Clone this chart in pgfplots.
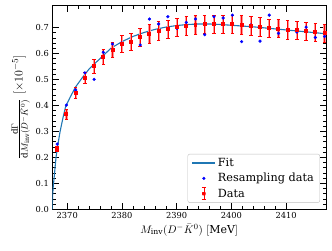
\documentclass[border=0pt]{standalone}
\usepackage{fontspec}
\setmainfont{DejaVu Serif}
\usepackage{pgfplots}
\pgfplotsset{compat=1.18}
\usepackage{pgfplotstable}
\definecolor{fitblue}{HTML}{1F77B4}
\definecolor{purered}{RGB}{255,0,0}
\definecolor{lightred}{RGB}{255,150,150}
\pgfplotstableread{
x red err blue
2368.17 0.232 0.010 0.251
2369.85 0.365 0.018 0.401
2371.54 0.448 0.020 0.459
2373.22 0.506 0.022 0.525
2374.91 0.550 0.026 0.500
2376.59 0.586 0.028 0.604
2378.27 0.613 0.030 0.636
2379.96 0.637 0.032 0.640
2381.64 0.643 0.033 0.645
2383.33 0.662 0.034 0.632
2385.01 0.674 0.036 0.732
2386.69 0.686 0.036 0.713
2388.38 0.693 0.036 0.741
2390.06 0.700 0.036 0.696
2391.75 0.706 0.036 0.719
2393.43 0.709 0.036 0.732
2395.11 0.712 0.036 0.672
2396.80 0.712 0.036 0.741
2398.48 0.712 0.036 0.736
2400.17 0.712 0.036 0.747
2401.85 0.709 0.036 0.645
2403.53 0.706 0.036 0.709
2405.22 0.702 0.036 0.647
2406.90 0.698 0.035 0.747
2408.59 0.695 0.035 0.677
2410.27 0.691 0.035 0.687
2411.95 0.688 0.034 0.682
2413.64 0.686 0.034 0.701
2415.32 0.681 0.034 0.661
2417.01 0.677 0.034 0.665
}\datatab
\pgfplotstableread{
x y
2367.27 0.000
2367.32 0.050
2367.45 0.090
2367.64 0.130
2367.95 0.200
2368.30 0.250
2368.70 0.300
2369.20 0.350
2369.70 0.395
2370.50 0.430
2371.50 0.470
2372.70 0.505
2374.00 0.540
2375.50 0.570
2376.50 0.590
2378.00 0.620
2380.00 0.645
2382.00 0.665
2384.00 0.680
2386.00 0.692
2388.00 0.701
2390.00 0.707
2392.00 0.711
2394.00 0.713
2396.00 0.713
2398.00 0.711
2400.00 0.708
2402.00 0.705
2404.00 0.702
2406.00 0.698
2408.00 0.694
2410.00 0.690
2412.00 0.686
2414.00 0.682
2416.00 0.678
2417.27 0.675
}\fittab
\begin{document}
\begin{tikzpicture}
\begin{axis}[
  scale only axis,
  width=273.7bp, height=204.3bp,
  xmin=2367.27, xmax=2417.27,
  ymin=0, ymax=0.786,
  xtick={2370,2380,2390,2400,2410},
  ytick={0,0.1,0.2,0.3,0.4,0.5,0.6,0.7},
  minor x tick num=4,
  minor y tick num=4,
  tick align=inside,
  xtick pos=both, ytick pos=both,
  major tick length=6.5bp,
  minor tick length=3.5bp,
  axis line style={line width=0.9pt},
  every tick/.style={black, line width=0.7pt},
  every minor tick/.style={black, line width=0.5pt},
  scaled y ticks=false,
  scaled x ticks=false,
  /pgf/number format/assume math mode=true,
  xticklabel style={/pgf/number format/1000 sep={}},
  yticklabel style={/pgf/number format/fixed, /pgf/number format/precision=1, /pgf/number format/fixed zerofill},
  tick label style={font=\fontsize{8.3}{10}\selectfont},
  xlabel={$M_{\mathrm{inv}}(D^-\bar{K}^0)\ [\mathrm{MeV}]$},
  ylabel={$\frac{\mathrm{d}\Gamma}{\mathrm{d}M_{\mathrm{inv}}(D^-\bar{K}^0)}\ [\times 10^{-5}]$},
  xlabel style={font=\fontsize{11}{13}\selectfont, yshift=2bp},
  ylabel style={font=\fontsize{12.5}{14}\selectfont, yshift=-1bp},
  legend style={at={(0.978,0.032)}, anchor=south east, draw=black!25, rounded corners=2pt,
    font=\fontsize{11.3}{13}\selectfont, row sep=1.5bp, inner xsep=4bp, inner ysep=2bp},
  legend cell align=left,
]
\addplot[fitblue, line width=1.1pt, no marks,
  legend image code/.code={\draw[fitblue, line width=1.1pt] (0bp,0bp) -- (23bp,0bp);}]
  table[x=x, y=y] {\fittab};
\addlegendentry{Fit}
\addplot[only marks, mark=*, mark size=1.4pt, blue, mark options={draw=blue, fill=blue},
  legend image code/.code={\fill[blue] (11.5bp,0bp) circle (1.4pt);}]
  table[x=x, y=blue] {\datatab};
\addlegendentry{Resampling data}
\addplot[forget plot, mark=none, draw=none,
  error bars/.cd, y dir=both, y explicit,
  error bar style={draw=lightred, line width=2.2pt}, error mark=none]
  table[x=x, y=red, y error=err] {\datatab};
\addplot[forget plot, mark=none, draw=none,
  error bars/.cd, y dir=both, y explicit,
  error bar style={draw=purered, line width=0.55pt},
  error mark options={rotate=90, draw=purered, mark size=1.8pt, line width=0.55pt},
  ] table[x=x, y=red, y error=err] {\datatab};
\addplot[only marks, mark=square*, mark size=1.5pt, color=purered,
  mark options={draw=purered, fill=purered, line width=0pt},
  legend image code/.code={
    \draw[purered, line width=0.6pt] (11.5bp,-6bp) -- (11.5bp,6bp)
      (9.5bp,-6bp) -- (13.5bp,-6bp) (9.5bp,6bp) -- (13.5bp,6bp);
    \fill[purered] (10bp,-1.5bp) rectangle (13bp,1.5bp);}]
  table[x=x, y=red] {\datatab};
\addlegendentry{Data}
\end{axis}
\pgfresetboundingbox
\path[use as bounding box] ([xshift=-52.3bp,yshift=-40.7bp]current axis.south west) rectangle ([xshift=6bp,yshift=5bp]current axis.north east);
\end{tikzpicture}
\end{document}
